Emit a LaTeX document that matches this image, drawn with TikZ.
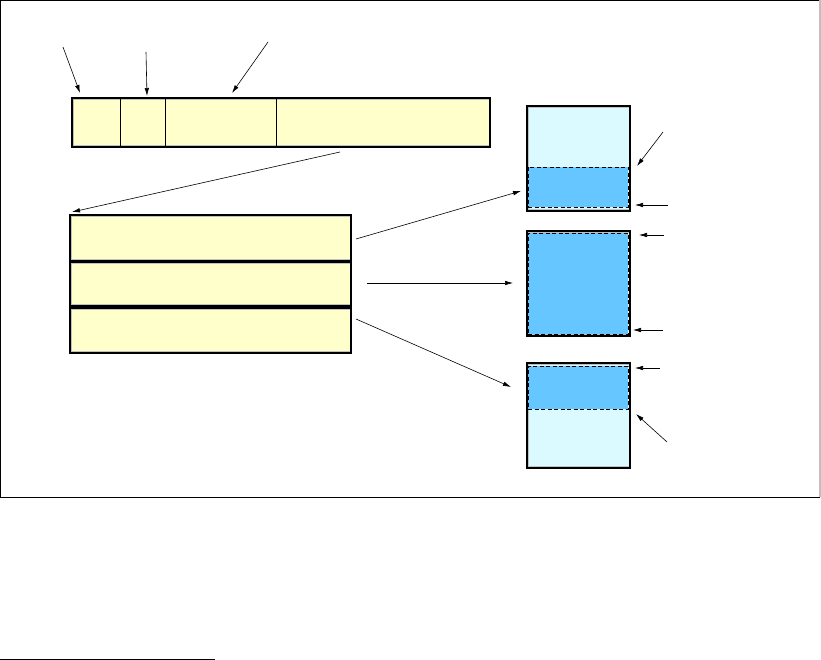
\documentclass[tikz,border=0pt]{standalone}
\usetikzlibrary{arrows.meta}
\definecolor{yel}{HTML}{FFFFCC}
\definecolor{lcyan}{HTML}{DBFAFF}
\definecolor{sky}{HTML}{66C6FF}
\definecolor{rim}{HTML}{C0C0C0}
\tikzset{
  framed/.style={draw=black, line width=1.3pt, inner sep=0pt, outer sep=0pt, anchor=north west, fill=rim,
    path picture={\fill[#1] ([shift={(1.6pt,-2.2pt)}]path picture bounding box.north west) rectangle ([shift={(-1.4pt,2.2pt)}]path picture bounding box.south east);}},
  ybox/.style={framed=yel},
  cbox/.style={framed=lcyan},
  fillreg/.style={fill=sky, draw=black, line width=0.7pt, dash pattern=on 4pt off 2.5pt, inner sep=0pt, outer sep=0pt, anchor=north west},
  arr/.style={-{Latex[length=8pt,width=4.5pt]}, line width=0.6pt, black}
}
\begin{document}
\begin{tikzpicture}[x=1pt,y=-1pt]
\useasboundingbox (0,0) rectangle (821,660);
% frame
\draw[black, line width=1pt] (820,497) -- (0.5,497) -- (0.5,0.5) -- (820,0.5);
\draw[rim, line width=1.2pt] (820,0.5) -- (820,497);
\draw[black, line width=1.2pt] (0,1) -- (0,497);
% footnote rule
\draw[black, line width=1pt] (0,659) -- (215,659);

% top record bar
\node[ybox, minimum width=418pt, minimum height=49pt] (bar) at (72,98) {};
\draw[black, line width=1pt] (120,98) -- (120,147);
\draw[black, line width=1pt] (165,98) -- (165,147);
\draw[black, line width=1pt] (276,98) -- (276,147);

% stacked boxes
\node[ybox, minimum width=281pt, minimum height=46.5pt] (b1) at (70,215) {};
\node[ybox, minimum width=281pt, minimum height=44.5pt] (b2) at (70,261.5) {};
\node[ybox, minimum width=281pt, minimum height=45pt] (b3) at (70,308) {};
\draw[black, line width=3.2pt] (b1.south west) -- (b1.south east);

% right boxes
\node[cbox, minimum width=103pt, minimum height=105pt] (r1) at (527,106) {};
\node[fillreg, minimum width=100pt, minimum height=40pt] (r1f) at (528,167) {};
\node[cbox, minimum width=103pt, minimum height=105pt] (r2) at (527,231) {};
\node[fillreg, minimum width=100pt, minimum height=101pt] (r2f) at (528,233) {};
\node[cbox, minimum width=103pt, minimum height=105pt] (r3) at (527,363) {};
\node[fillreg, minimum width=100pt, minimum height=43pt] (r3f) at (528,366) {};

% free arrow ends
\coordinate (t1s) at (63,47);  \coordinate (t1e) at (80,93);
\coordinate (t2s) at (146,52); \coordinate (t2e) at (147,96);
\coordinate (t3s) at (268,42); \coordinate (t3e) at (232,93);
\coordinate (bs) at (340,152); \coordinate (be) at (72,212);
\coordinate (m1s) at (356,239); \coordinate (m1e) at (521,191);
\coordinate (m2s) at (367,283); \coordinate (m2e) at (513,283);
\coordinate (m3s) at (356,319); \coordinate (m3e) at (511,387);
\coordinate (p1s) at (663,132); \coordinate (p1e) at (637,166);
\coordinate (p2s) at (668,205); \coordinate (p2e) at (635,205);
\coordinate (p3s) at (664,235); \coordinate (p3e) at (639,235);
\coordinate (p4s) at (663,330); \coordinate (p4e) at (633,330);
\coordinate (p5s) at (660,368); \coordinate (p5e) at (635,368);
\coordinate (p6s) at (667,442); \coordinate (p6e) at (636,414);

\foreach \a in {t1,t2,t3,b,m1,m2,m3,p1,p2,p3,p4,p5,p6}
  \draw[arr] (\a s) -- (\a e);
\end{tikzpicture}
\end{document}
